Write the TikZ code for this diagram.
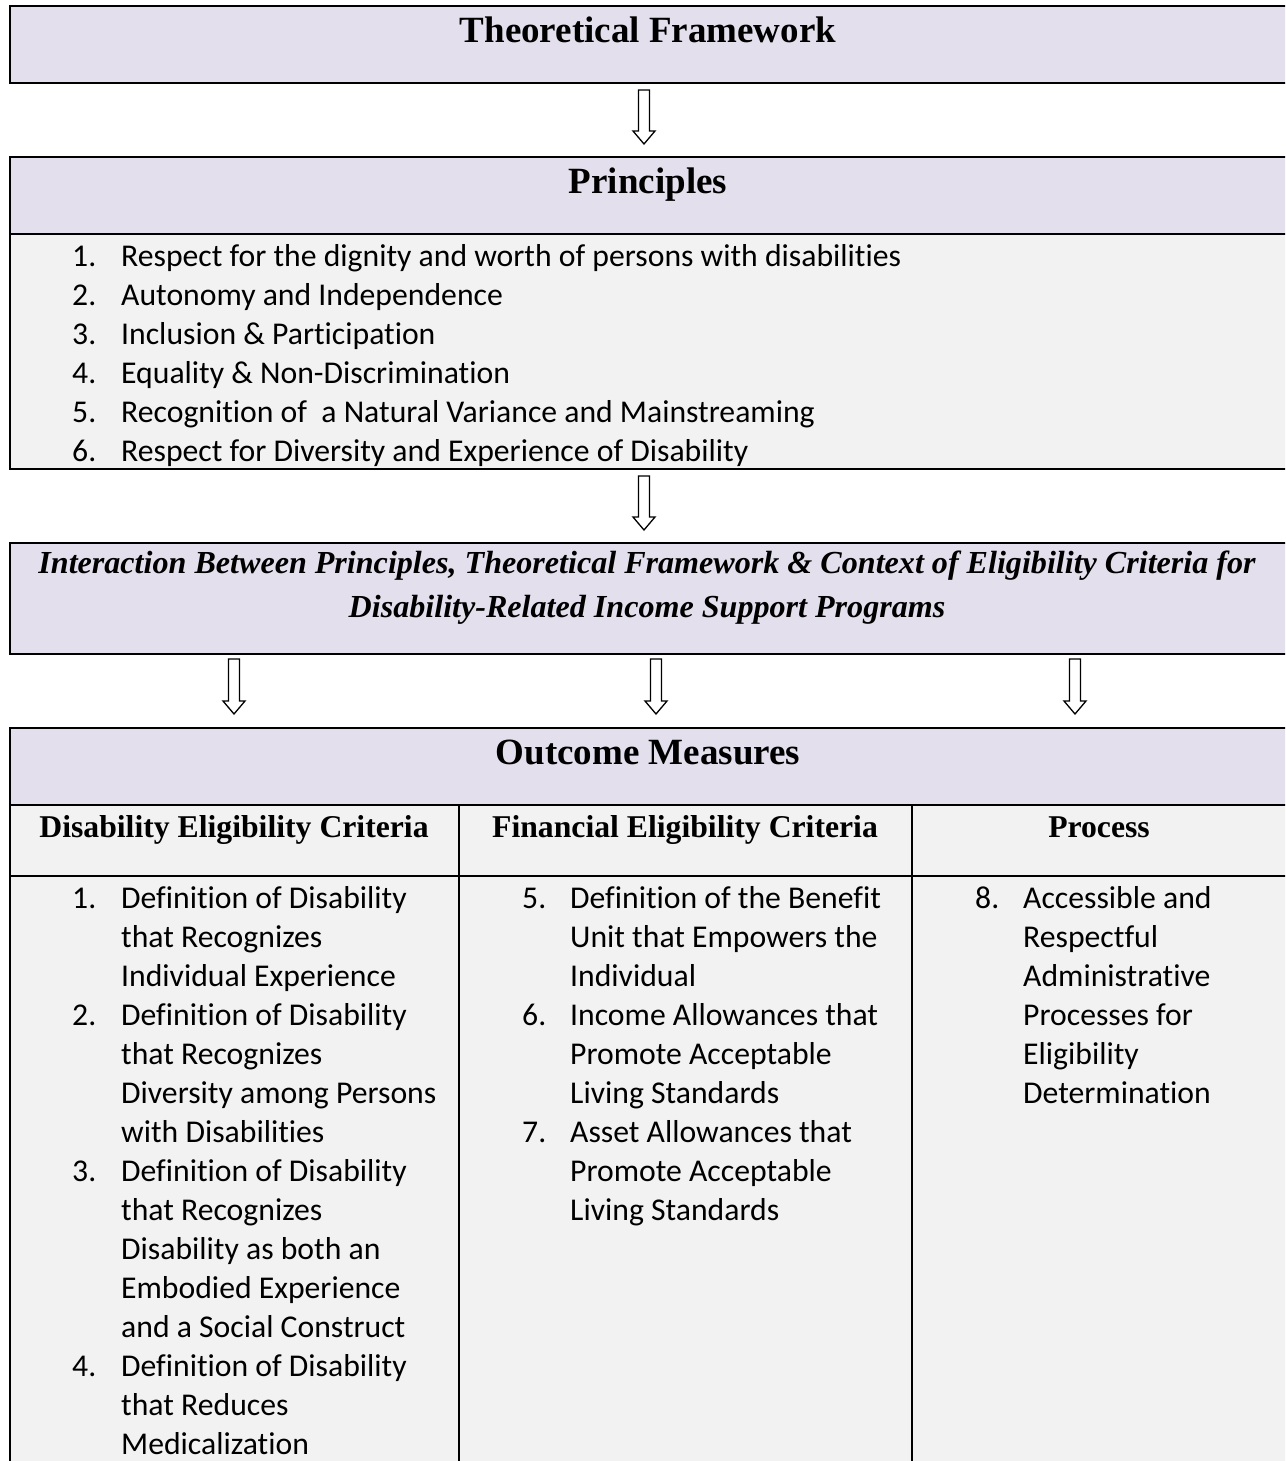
\documentclass[tikz,border=0pt]{standalone}
\usepackage{fontspec}
\setmainfont{Liberation Serif}
\newfontfamily\calfont[Ligatures={NoCommon},RawFeature={-liga}]{Carlito}
\definecolor{lav}{HTML}{E4DFEC}
\definecolor{lgray}{HTML}{F2F2F2}
\newcommand\blockarr[3]{%
  \filldraw[barrow] (#1-5.5,#2) -- (#1+5.5,#2) -- (#1+5.5,#3-13) -- (#1+11,#3-13) -- (#1,#3) -- (#1-11,#3-13) -- (#1-5.5,#3-13) -- cycle;}
\begin{document}
\begin{tikzpicture}[x=1pt,y=-1pt,
  boxline/.style={line width=2.2pt},
  inline/.style={line width=1.6pt},
  ttl/.style={font=\fontsize{37}{42}\selectfont\bfseries, anchor=base, inner sep=0},
  hdr/.style={font=\fontsize{31.7}{36}\selectfont\bfseries, anchor=base, inner sep=0},
  itl/.style={font=\fontsize{32.1}{36}\selectfont\bfseries\itshape, anchor=base, inner sep=0},
  lst/.style={font=\calfont\fontsize{31.7}{39}\selectfont, anchor=base west, inner sep=0},
  barrow/.style={draw, line width=1.3pt, fill=white, line join=miter}]
\clip (0,0) rectangle (1285,1461);
\fill[white] (0,0) rectangle (1285,1461);
% box 1
\filldraw[fill=lav, boxline] (10,6) rectangle (1300,83);
\node[ttl] (tf) at (648,43) {Theoretical Framework};
\blockarr{644}{90}{144}
% box 2
\fill[lav] (10,157) rectangle (1300,234);
\fill[lgray] (10,234) rectangle (1300,469);
\draw[boxline] (10,157) rectangle (1300,469);
\draw[inline] (10,234) -- (1300,234);
\node[ttl] (pr) at (648,193) {Principles};
\foreach \t [count=\i from 0] in {{Respect for the dignity and worth of persons with disabilities},{Autonomy and Independence},{Inclusion \& Participation},{Equality \& Non-Discrimination},{Recognition of\ \ a Natural Variance and Mainstreaming},{Respect for Diversity and Experience of Disability}}{
  \pgfmathtruncatemacro\n{\i+1}
  \node[lst] (pn\i) at (72,{266+39*\i}) {\n.};
  \node[lst] (pt\i) at (121,{266+39*\i}) {\t};
}
\blockarr{644}{476}{530}
% box 3
\filldraw[fill=lav, boxline] (10,543) rectangle (1300,654);
\node[itl] (i1) at (647,573) {Interaction Between Principles, Theoretical Framework \& Context of Eligibility Criteria for};
\node[itl] (i2) at (647,617) {Disability-Related Income Support Programs};
\blockarr{234}{659}{714}
\blockarr{656}{659}{714}
\blockarr{1075}{659}{714}
% box 4
\fill[lav] (10,728) rectangle (1300,805);
\fill[lgray] (10,805) rectangle (1300,1470);
\draw[boxline] (1300,728) -- (10,728) -- (10,1470);
\draw[inline] (10,805) -- (1300,805);
\draw[inline] (10,876) -- (1300,876);
\draw[inline] (459,805) -- (459,1470);
\draw[inline] (912,805) -- (912,1470);
\node[ttl] (om) at (648,764) {Outcome Measures};
\node[hdr] (h1) at (234,837) {Disability Eligibility Criteria};
\node[hdr] (h2) at (685,837) {Financial Eligibility Criteria};
\node[hdr] (h3) at (1099,837) {Process};
% column 1
\foreach \t [count=\i from 0] in {{Definition of Disability},{that Recognizes},{Individual Experience},{Definition of Disability},{that Recognizes},{Diversity among Persons},{with Disabilities},{Definition of Disability},{that Recognizes},{Disability as both an},{Embodied Experience},{and a Social Construct},{Definition of Disability},{that Reduces},{Medicalization}}{
  \node[lst] (ca\i) at (121,{908+39*\i}) {\t};
}
\node[lst] (na1) at (72,908) {1.};
\node[lst] (na2) at (72,{908+39*3}) {2.};
\node[lst] (na3) at (72,{908+39*7}) {3.};
\node[lst] (na4) at (72,{908+39*12}) {4.};
% column 2
\foreach \t [count=\i from 0] in {{Definition of the Benefit},{Unit that Empowers the},{Individual},{Income Allowances that},{Promote Acceptable},{Living Standards},{Asset Allowances that},{Promote Acceptable},{Living Standards}}{
  \node[lst] (cb\i) at (570,{908+39*\i}) {\t};
}
\node[lst] (nb5) at (522,908) {5.};
\node[lst] (nb6) at (522,{908+39*3}) {6.};
\node[lst] (nb7) at (522,{908+39*6}) {7.};
% column 3
\foreach \t [count=\i from 0] in {{Accessible and},{Respectful},{Administrative},{Processes for},{Eligibility},{Determination}}{
  \node[lst] (cc\i) at (1023,{908+39*\i}) {\t};
}
\node[lst] (nc8) at (975,908) {8.};
\end{tikzpicture}
\end{document}
